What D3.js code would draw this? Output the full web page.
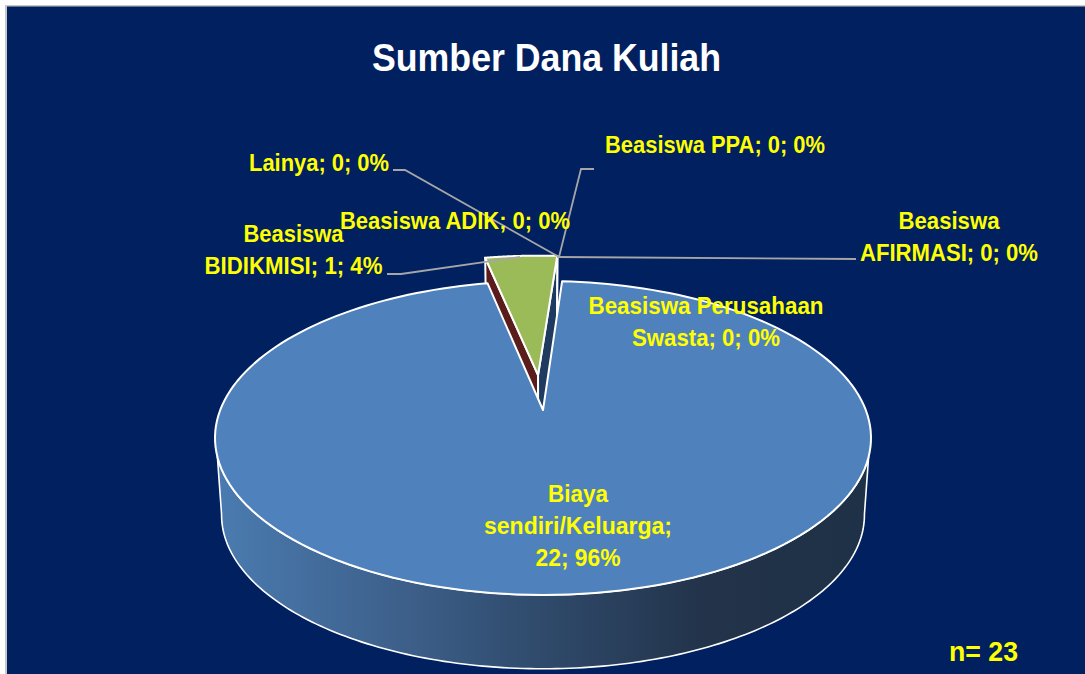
<!DOCTYPE html>
<html>
<head>
<meta charset="utf-8">
<script src="https://cdn.jsdelivr.net/npm/d3@7"></script>
<style>
  html, body { margin: 0; padding: 0; background: #fff; overflow: hidden; }
  text { font-family: "Liberation Sans", sans-serif; font-weight: 700; }
</style>
</head>
<body>
<div id="chart"></div>
<script>
// data
const categories = ["Biaya sendiri/Keluarga", "Beasiswa ADIK", "Beasiswa BIDIKMISI", "Lainya", "Beasiswa PPA", "Beasiswa AFIRMASI", "Beasiswa Perusahaan Swasta"];
const values = [22, 0, 1, 0, 0, 0, 0];
const sliceColors = ["#4f81bd", "#5b1c1c", "#9bbb59", "#1f3a5f", "#1f3a5f", "#1f3a5f", "#1f3a5f"];
const chartTitle = "Sumber Dana Kuliah";
const sampleNote = "n= 23";

// posisi label, urut sama dengan categories. w = lebar tiap baris (font asli lebih sempit)
const labelSpots = [
  { lines: ["Biaya", "sendiri/Keluarga;", "22; 96%"], w: [60, 188, 85], x: 578, y: 502 },
  { lines: ["Beasiswa ADIK; 0; 0%"], w: [230], x: 455, y: 229 },
  { lines: ["Beasiswa", "BIDIKMISI; 1; 4%"], w: [100, 178], x: 293.5, y: 242, leader: [[387, 274], [401, 274], [520, 257]] },
  { lines: ["Lainya; 0; 0%"], w: [140], x: 319, y: 171, leader: [[393, 170], [405, 170], [559, 257]] },
  { lines: ["Beasiswa PPA; 0; 0%"], w: [220], x: 715, y: 153, leader: [[594, 169], [581, 169], [559, 257]] },
  { lines: ["Beasiswa", "AFIRMASI; 0; 0%"], w: [101, 178], x: 949, y: 229, leader: [[856, 259], [557, 257]] },
  { lines: ["Beasiswa Perusahaan", "Swasta; 0; 0%"], w: [235, 148], x: 706, y: 314 }
];

const width = 1085, height = 674;
const lineGap = 32;

// proyeksi perspektif pie: titik (u, v) di piringan satuan, z = 0 atas, z = 1 bawah
const cx = 543, cy = 438;
const ry = 157, rx = 328;
const tilt = 0.178, apexLift = 28;
const wallDrop = 77, wallShrink = 0.98;

function project(u, v, z) {
  const w = 1 + tilt * v;
  const s = z ? wallShrink : 1;
  return [
    cx + rx * Math.sqrt(1 - tilt * tilt) * u / w * s,
    cy + (-ry * v - apexLift) / w * s + z * wallDrop
  ];
}

const rimPoint = (a, off, z) => project(Math.sin(a) + off[0], Math.cos(a) + off[1], z);

const svg = d3.select("#chart").append("svg")
  .attr("width", width)
  .attr("height", height)
  .style("display", "block");

// background
svg.append("rect")
  .attr("x", 5).attr("y", 5)
  .attr("width", width).attr("height", height)
  .attr("fill", "#c8c8c8");
svg.append("rect")
  .attr("x", 7).attr("y", 6.5)
  .attr("width", width).attr("height", height)
  .attr("fill", "#002060");

const defs = svg.append("defs");
const grad = defs.append("linearGradient").attr("id", "wall");
grad.selectAll("stop")
  .data([[0, "#4a7bb0"], [0.3, "#3c5e88"], [0.5, "#2f4a6b"], [0.75, "#22334a"], [1, "#1f3146"]])
  .join("stop")
  .attr("offset", d => d[0])
  .attr("stop-color", d => d[1]);

// pie
const pie = d3.pie().sort(null).value(d => d)
  .startAngle(4 * Math.PI / 180)
  .endAngle(4 * Math.PI / 180 + 2 * Math.PI);
const slices = pie(values);
const color = d3.scaleOrdinal().domain(categories).range(sliceColors);
const line = d3.line();

const main = slices[0];
const small = slices[2];

// irisan kecil ditarik keluar
const explode = 0.24;
const mid = (small.startAngle + small.endAngle) / 2;
const off = [explode * Math.sin(mid), explode * Math.cos(mid)];

// dinding irisan 0% kelihatan dari celah
slices.filter(d => d.value === 0).forEach(d => {
  const a = d.startAngle;
  const pts = [
    project(off[0], off[1], 0),
    rimPoint(a, off, 0),
    rimPoint(a, off, 1),
    project(off[0], off[1], 1)
  ];
  svg.append("path")
    .attr("d", line(pts) + "Z")
    .attr("fill", color(categories[d.index]))
    .attr("stroke", "#fff")
    .attr("stroke-width", 2)
    .attr("stroke-linejoin", "round");
});

function sliceTop(d, o) {
  const steps = d3.range(0, 181).map(k => d.startAngle + (d.endAngle - d.startAngle) * k / 180);
  return line([project(o[0], o[1], 0), ...steps.map(a => rimPoint(a, o, 0))]) + "Z";
}

// irisan hijau
svg.append("path")
  .attr("d", sliceTop(small, off))
  .attr("fill", color(categories[small.index]))
  .attr("stroke", "#fff")
  .attr("stroke-width", 2)
  .attr("stroke-linejoin", "round");

// sisi depan pie
const noOff = [0, 0];
const rad = deg => deg * Math.PI / 180;
const topFront = d3.range(107, 253.5, 1).map(t => rimPoint(rad(t), noOff, 0));
const botFront = d3.range(260, 99.5, -1).map(t => rimPoint(rad(t), noOff, 1));
svg.append("path")
  .attr("d", line([...topFront, ...botFront]) + "Z")
  .attr("fill", "url(#wall)")
  .attr("stroke", "#fff")
  .attr("stroke-width", 1.6)
  .attr("stroke-linejoin", "round");

// irisan utama
svg.append("path")
  .attr("d", sliceTop(main, noOff))
  .attr("fill", color(categories[main.index]))
  .attr("stroke", "#fff")
  .attr("stroke-width", 2)
  .attr("stroke-linejoin", "round");

// title
svg.append("text")
  .attr("x", 546.5).attr("y", 71)
  .attr("text-anchor", "middle")
  .attr("font-size", 38)
  .attr("textLength", 349)
  .attr("lengthAdjust", "spacingAndGlyphs")
  .attr("fill", "#fff")
  .text(chartTitle);

// leader
labelSpots.filter(d => d.leader).forEach(d => {
  svg.append("path")
    .attr("d", line(d.leader))
    .attr("fill", "none")
    .attr("stroke", "#a6a6a6")
    .attr("stroke-width", 1.8);
});

// labels
labelSpots.forEach(d => {
  const t = svg.append("text")
    .attr("text-anchor", "middle")
    .attr("font-size", 24)
    .attr("fill", "#ffff00");
  d.lines.forEach((s, i) => {
    t.append("tspan")
      .attr("x", d.x)
      .attr("y", d.y + i * lineGap)
      .attr("textLength", d.w[i])
      .attr("lengthAdjust", "spacingAndGlyphs")
      .text(s);
  });
});

svg.append("text")
  .attr("x", 983.5).attr("y", 661)
  .attr("text-anchor", "middle")
  .attr("font-size", 28)
  .attr("textLength", 69)
  .attr("lengthAdjust", "spacingAndGlyphs")
  .attr("fill", "#ffff00")
  .text(sampleNote);
</script>
</body>
</html>
